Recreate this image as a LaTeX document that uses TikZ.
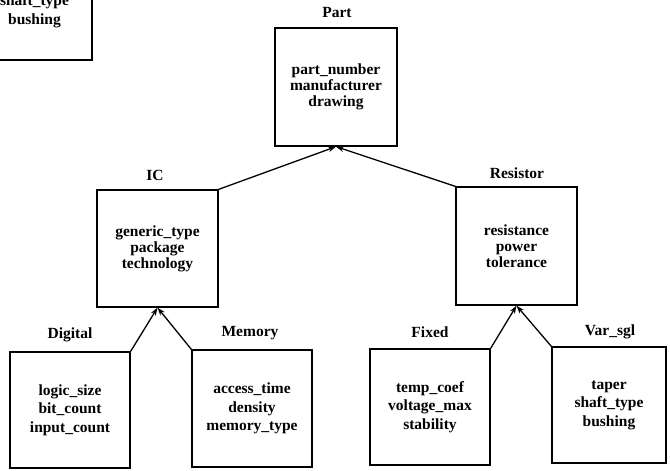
\documentclass[tikz,border=0pt]{standalone}
\usepackage{fontspec}
\setmainfont{Liberation Serif}
\usetikzlibrary{arrows.meta}
\tikzset{
  cls/.style={draw, line width=1.3pt, inner sep=0pt, align=center,
    font=\bfseries\fontsize{15.5}{16}\selectfont},
  clsb/.style={cls, font=\bfseries\fontsize{15.5}{18.5}\selectfont},
  ttl/.style={inner sep=0pt, font=\bfseries\fontsize{15.5}{16}\selectfont},
  isa/.style={line width=1.3pt, -{Stealth[length=8pt,width=5.5pt]}}
}
\begin{document}
\begin{tikzpicture}[x=1pt,y=-1pt]
\useasboundingbox (0,0) rectangle (670,471);
\clip (0,0) rectangle (670,471);
% fragment of a box cut by the top-left edge
\node[clsb, minimum width=115pt, minimum height=114pt] (frag) at (34.5,3) {\phantom{taper}\\shaft\_type\\bushing};
% boxes
\node[cls, minimum width=122pt, minimum height=118pt] (part) at (336,87) {part\_number\\manufacturer\\drawing};
\node[cls, minimum width=121pt, minimum height=117pt] (ic) at (157.5,248.5) {generic\_type\\package\\technology};
\node[cls, minimum width=121pt, minimum height=118pt] (res) at (516.5,246) {resistance\\power\\tolerance};
\node[clsb, minimum width=120pt, minimum height=116pt] (dig) at (70,410) {logic\_size\\bit\_count\\input\_count};
\node[clsb, minimum width=120pt, minimum height=117pt] (mem) at (252,408.5) {access\_time\\density\\memory\_type};
\node[clsb, minimum width=120pt, minimum height=116pt] (fix) at (430,407) {temp\_coef\\voltage\_max\\stability};
\node[clsb, minimum width=114pt, minimum height=116pt] (var) at (609,405) {taper\\shaft\_type\\bushing};
% titles
\node[ttl] (partT) at (337,13) {Part};
\node[ttl] (icT) at (155,175) {IC};
\node[ttl] (resT) at (517,173) {Resistor};
\node[ttl] (digT) at (70,335) {Digital};
\node[ttl] (memT) at (250,333) {Memory};
\node[ttl] (fixT) at (430,332) {Fixed};
\node[ttl] (varT) at (610,332) {Var\_sgl};
% inheritance arrows
\draw[isa] (ic.north east) -- (part.south);
\draw[isa] (res.north west) -- (part.south);
\draw[isa] (dig.north east) -- (ic.south);
\draw[isa] (mem.north west) -- (ic.south);
\draw[isa] (fix.north east) -- (res.south);
\draw[isa] (var.north west) -- (res.south);
\end{tikzpicture}
\end{document}
